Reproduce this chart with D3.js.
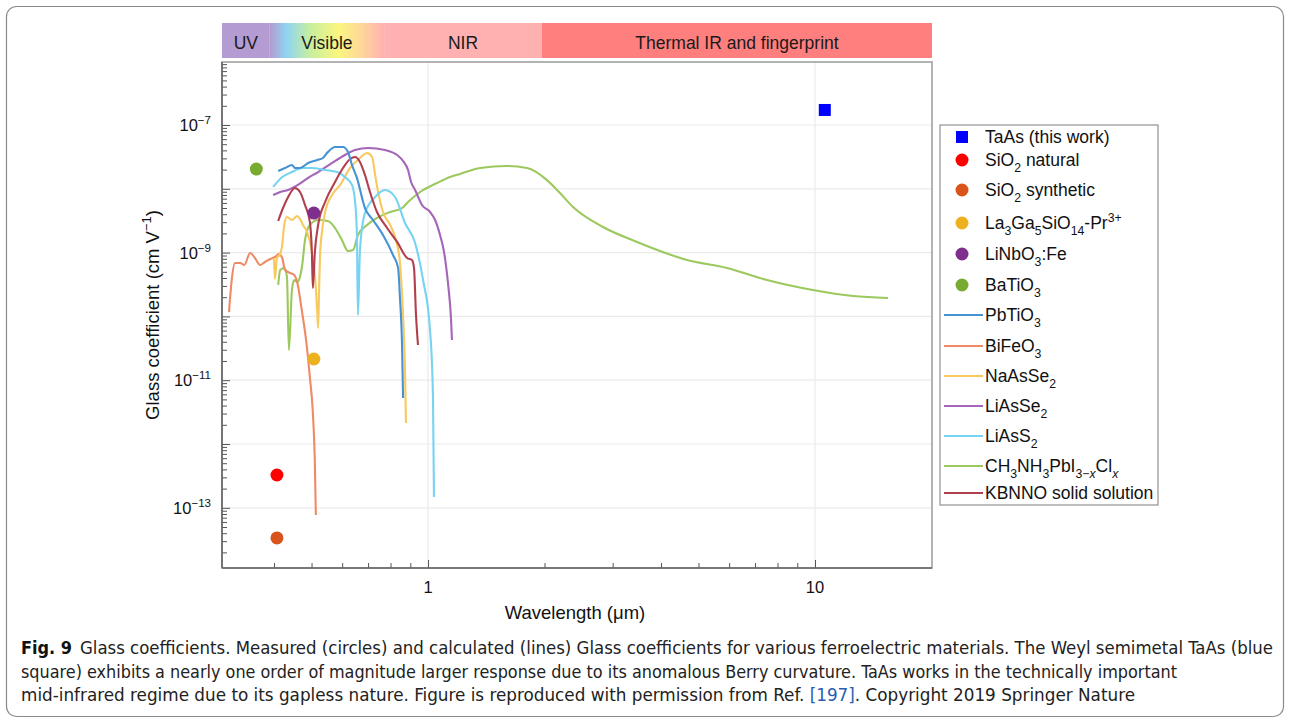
<!DOCTYPE html>
<html><head><meta charset="utf-8">
<script src="https://cdn.jsdelivr.net/npm/d3@7"></script>
<style>
body{margin:0;background:#fff;}
svg{display:block;font-family:"Liberation Sans",Arimo,Arial,Helvetica,sans-serif;}
</style>
</head><body>
<svg id="chart" width="1290" height="721"></svg>
<script>
// ---------------- DATA ----------------
const bandNames = ["UV", "Visible", "NIR", "Thermal IR and fingerprint"];
const bandStart = [0.2935, 0.39, 0.77, 1.97];
const bandEnd   = [0.39, 0.77, 1.97, 20.06];

const xMajorTicks = [1, 10];
const xTickLabels = ["1", "10"];
const yLabelExps = [-7, -9, -11, -13];

const pointNames = ["TaAs (this work)", "SiO_{2} natural", "SiO_{2} synthetic",
  "La_{3}Ga_{5}SiO_{14}-Pr^{3+}", "LiNbO_{3}:Fe", "BaTiO_{3}"];
const pointLambda = [10.6, 0.407, 0.407, 0.507, 0.507, 0.360];
const pointG = [1.72e-7, 3.27e-13, 3.37e-14, 2.15e-11, 4.17e-9, 2.04e-8];

const lineNames = ["PbTiO_{3}", "BiFeO_{3}", "NaAsSe_{2}", "LiAsSe_{2}", "LiAsS_{2}",
  "CH_{3}NH_{3}PbI_{3\u2212}_{*x}Cl_{*x}", "KBNNO solid solution"];

const pbtio3Lambda = [0.410,0.427,0.445,0.453,0.467,0.490,0.517,0.535,0.551,0.575,0.603,0.621,0.636,0.655,0.687,0.721,0.765,0.812,0.837,0.846,0.857,0.862];
const pbtio3G = [1.90e-8,2.12e-8,2.36e-8,2.12e-8,2.12e-8,2.54e-8,2.83e-8,3.04e-8,3.77e-8,4.52e-8,4.52e-8,3.77e-8,2.36e-8,1.48e-8,5.00e-9,3.24e-9,1.89e-9,9.17e-10,5.74e-10,2.01e-10,3.31e-11,5.26e-12];

const bifeo3Lambda = [0.306,0.311,0.317,0.327,0.335,0.347,0.357,0.368,0.379,0.391,0.402,0.412,0.420,0.427,0.440,0.451,0.459,0.473,0.484,0.495,0.504,0.510,0.513];
const bifeo3G = [1.17e-10,3.72e-10,6.87e-10,6.87e-10,6.39e-10,9.86e-10,8.23e-10,6.39e-10,7.12e-10,7.94e-10,8.53e-10,9.50e-10,8.23e-10,5.34e-10,4.79e-10,4.46e-10,3.46e-10,1.13e-10,4.27e-11,1.12e-11,3.06e-12,5.04e-13,7.71e-14];

const naasse2Lambda = [0.400,0.402,0.407,0.415,0.420,0.425,0.432,0.445,0.459,0.467,0.475,0.487,0.501,0.510,0.517,0.520,0.523,0.526,0.532,0.542,0.565,0.593,0.629,0.667,0.696,0.717,0.730,0.743,0.765,0.798,0.832,0.846,0.862,0.872,0.877];
const naasse2G = [8.23e-10,3.86e-10,8.23e-10,9.50e-10,1.32e-9,2.71e-9,3.61e-9,3.24e-9,3.75e-9,3.36e-9,2.71e-9,2.10e-9,1.02e-9,4.46e-10,1.26e-10,6.58e-11,2.59e-10,9.17e-10,2.10e-9,4.33e-9,8.00e-9,1.15e-8,2.12e-8,3.04e-8,3.64e-8,3.15e-8,1.65e-8,8.91e-9,4.33e-9,2.71e-9,1.32e-9,7.12e-10,1.05e-10,1.45e-11,2.13e-12];

const liasse2Lambda = [0.398,0.415,0.435,0.461,0.490,0.520,0.565,0.610,0.648,0.700,0.774,0.832,0.862,0.888,0.904,0.926,0.965,1.012,1.043,1.074,1.100,1.126,1.147,1.153];
const liasse2G = [8.00e-9,8.91e-9,9.58e-9,1.15e-8,1.48e-8,1.83e-8,2.54e-8,3.39e-8,4.06e-8,4.36e-8,4.06e-8,3.39e-8,2.73e-8,1.97e-8,1.28e-8,9.58e-9,5.57e-9,4.33e-9,3.24e-9,1.89e-9,1.02e-9,3.34e-10,8.78e-11,4.27e-11];

const liass2Lambda = [0.398,0.420,0.445,0.473,0.501,0.542,0.582,0.610,0.636,0.648,0.655,0.659,0.667,0.687,0.730,0.774,0.822,0.872,0.926,0.971,1.012,1.030,1.036];
const liass2G = [1.07e-8,1.53e-8,1.83e-8,2.12e-8,2.12e-8,1.97e-8,1.83e-8,1.53e-8,1.15e-8,6.21e-9,1.89e-9,1.05e-10,1.10e-9,4.17e-9,7.44e-9,9.58e-9,7.44e-9,2.91e-9,1.41e-9,3.72e-10,6.12e-11,5.45e-12,1.48e-13];

const mapiLambda = [0.410,0.415,0.425,0.432,0.437,0.445,0.451,0.459,0.464,0.473,0.481,0.495,0.520,0.551,0.575,0.599,0.621,0.640,0.659,0.696,0.738,0.798,0.857,0.888,0.954,1.055,1.140,1.210,1.363,1.600,1.803,2.030,2.193,2.370,2.833,3.468,4.670,5.925,7.516,9.88,12.54,15.44];
const mapiG = [3.11e-10,5.34e-10,5.74e-10,4.15e-10,2.97e-11,2.59e-10,3.72e-10,3.46e-10,3.72e-10,6.39e-10,1.58e-9,2.71e-9,3.24e-9,3.13e-9,2.43e-9,1.58e-9,1.06e-9,1.10e-9,1.89e-9,2.71e-9,3.49e-9,4.33e-9,5.00e-9,6.21e-9,8.91e-9,1.23e-8,1.53e-8,1.71e-8,2.12e-8,2.28e-8,2.12e-8,1.37e-8,8.59e-9,5.19e-9,2.52e-9,1.47e-9,7.66e-10,5.74e-10,3.72e-10,2.59e-10,2.09e-10,1.94e-10];

const kbnnoLambda = [0.410,0.422,0.435,0.453,0.467,0.481,0.495,0.501,0.504,0.510,0.520,0.542,0.575,0.603,0.629,0.648,0.667,0.687,0.708,0.738,0.784,0.832,0.883,0.909,0.920,0.931,0.942];
const kbnnoG = [3.13e-9,5.00e-9,7.44e-9,1.03e-8,8.91e-9,5.57e-9,3.02e-9,1.02e-9,2.79e-10,1.02e-9,2.71e-9,6.21e-9,1.28e-8,2.12e-8,2.93e-8,3.15e-8,2.63e-8,1.65e-8,8.91e-9,4.33e-9,2.43e-9,1.47e-9,8.23e-10,7.66e-10,5.74e-10,1.05e-10,3.56e-11];

const captionLines = [
  "Glass coefficients. Measured (circles) and calculated (lines) Glass coefficients for various ferroelectric materials. The Weyl semimetal TaAs (blue",
  "square) exhibits a nearly one order of magnitude larger response due to its anomalous Berry curvature. TaAs works in the technically important",
  "mid-infrared regime due to its gapless nature. Figure is reproduced with permission from Ref. "
];

// ---------------- STYLE / LAYOUT ----------------
const FONT = '"Liberation Sans",Arimo,Arial,Helvetica,sans-serif';
const bandColors = ["#b49bd2", "url(#visGrad)", "#ffb1b1", "#ff7f7f"];
const pointColors = ["#0000ff", "#ff0000", "#d9541a", "#edb120", "#7e2f8e", "#77ac30"];
const lineColors = ["#4593d3", "#ee8a66", "#f7c95e", "#a565b8", "#76d3f2", "#9cc95e", "#b0404e"];
const lineSeries = [
  [pbtio3Lambda, pbtio3G], [bifeo3Lambda, bifeo3G], [naasse2Lambda, naasse2G],
  [liasse2Lambda, liasse2G], [liass2Lambda, liass2G], [mapiLambda, mapiG], [kbnnoLambda, kbnnoG]
];
const drawOrder = [5, 1, 2, 3, 4, 6, 0];
const legendY = [137, 160, 190, 223, 254, 285, 315, 346, 376, 406, 436, 466, 493];

const L = 222, R = 932, T = 62, B = 568;
const svg = d3.select("#chart");

const x = d3.scaleLog().domain([0.2935, 20.06]).range([L, R]);
const y = d3.scaleLog().domain([1e-14, 1e-6]).range([571.6, 61.2]);

function rich(sel, str, size) {
  const parts = str.split(/(_\{[^}]*\}|\^\{[^}]*\})/).filter(s => s.length);
  let shift = 0;
  parts.forEach(p => {
    let t = p, sh = 0, fs = size, it = false;
    if (p.startsWith("_{")) { t = p.slice(2, -1); sh = size * 0.32; fs = size * 0.7; }
    else if (p.startsWith("^{")) { t = p.slice(2, -1); sh = -size * 0.42; fs = size * 0.7; }
    if (t.startsWith("*")) { t = t.slice(1); it = true; }
    sel.append("tspan").attr("dy", sh - shift).attr("font-size", fs)
      .attr("font-style", it ? "italic" : null).text(t);
    shift = sh;
  });
}

// outer card
svg.append("rect").attr("x", 6.5).attr("y", 6.5).attr("width", 1277).attr("height", 710)
  .attr("rx", 10).attr("fill", "none").attr("stroke", "#8a8a8a").attr("stroke-width", 1.2);

// gradient for visible band
const defs = svg.append("defs");
const g1 = defs.append("linearGradient").attr("id", "visGrad").attr("x1", "0%").attr("x2", "100%");
[[0, "#b49bd2"], [0.15, "#8fd5f1"], [0.35, "#c6eea0"], [0.6, "#fbf67f"], [0.8, "#ffd79a"], [1, "#ffb1b1"]]
  .forEach(s => g1.append("stop").attr("offset", s[0]).attr("stop-color", s[1]));

// bands
const bandG = svg.append("g");
bandNames.forEach((n, i) => {
  const x0 = x(bandStart[i]), x1 = x(bandEnd[i]);
  bandG.append("rect").attr("x", x0).attr("y", 23).attr("width", x1 - x0).attr("height", 35)
    .attr("fill", bandColors[i]);
  bandG.append("text").attr("x", (x0 + x1) / 2).attr("y", 49).attr("text-anchor", "middle")
    .attr("font-family", FONT).attr("font-size", 17.5).attr("fill", "#1a1a1a").text(n);
});

// grid
const yMajor = d3.range(-13, -6).map(e => Math.pow(10, e));
const yMinor = [];
d3.range(-14, -6).forEach(e => { for (let k = 2; k <= 9; k++) { const v = k * Math.pow(10, e); if (y(v) > T + 1 && y(v) < B - 1) yMinor.push(v); } });
const xMinor = [0.4, 0.5, 0.6, 0.7, 0.8, 0.9, 2, 3, 4, 5, 6, 7, 8, 9];

const grid = svg.append("g").attr("stroke", "#ebebeb").attr("stroke-width", 1.2);
yMajor.forEach(v => grid.append("line").attr("x1", L).attr("x2", R).attr("y1", y(v)).attr("y2", y(v)));
xMajorTicks.forEach(v => grid.append("line").attr("x1", x(v)).attr("x2", x(v)).attr("y1", T).attr("y2", B));

// frame
svg.append("rect").attr("x", L).attr("y", T).attr("width", R - L).attr("height", B - T)
  .attr("fill", "none").attr("stroke", "#9a9a9a").attr("stroke-width", 1.5);

// axes
function styleAxis(g) { g.select(".domain").remove(); g.selectAll("line").attr("stroke", "#555").attr("stroke-width", 1); }
svg.append("g").attr("transform", `translate(${L},0)`).call(d3.axisRight(y).tickValues(yMajor).tickSize(8).tickFormat("")).call(styleAxis);
svg.append("g").attr("transform", `translate(${L},0)`).call(d3.axisRight(y).tickValues(yMinor).tickSize(5).tickFormat("")).call(styleAxis);
svg.append("g").attr("transform", `translate(0,${B})`).call(d3.axisTop(x).tickValues(xMajorTicks).tickSize(8).tickFormat("")).call(styleAxis);
svg.append("g").attr("transform", `translate(0,${B})`).call(d3.axisTop(x).tickValues(xMinor).tickSize(5).tickFormat("")).call(styleAxis);
svg.append("line").attr("x1", L).attr("x2", L).attr("y1", T).attr("y2", B).attr("stroke", "#666").attr("stroke-width", 1.6);
svg.append("line").attr("x1", L).attr("x2", R).attr("y1", B).attr("y2", B).attr("stroke", "#666").attr("stroke-width", 1.6);

// tick labels
xMajorTicks.forEach((v, i) => svg.append("text").attr("x", x(v)).attr("y", 593).attr("text-anchor", "middle")
  .attr("font-family", FONT).attr("font-size", 16.5).attr("fill", "#111").text(xTickLabels[i]));
yLabelExps.forEach(e => {
  const t = svg.append("text").attr("x", 211).attr("y", y(Math.pow(10, e)) + 6).attr("text-anchor", "end")
    .attr("font-family", FONT).attr("font-size", 16.5).attr("fill", "#111");
  rich(t, "10^{\u2212" + (-e) + "}", 16.5);
});

// axis titles
svg.append("text").attr("x", 575).attr("y", 619).attr("text-anchor", "middle").attr("font-size", 18.5)
  .attr("font-family", FONT).attr("fill", "#111").text("Wavelength (\u03bcm)");
const yt = svg.append("text").attr("transform", "translate(159,315) rotate(-90)").attr("text-anchor", "middle")
  .attr("font-family", FONT).attr("font-size", 18.5).attr("fill", "#111");
rich(yt, "Glass coefficient (cm V^{\u22121})", 18.5);

// lines
const line = d3.line().x(d => x(d[0])).y(d => y(d[1])).curve(d3.curveMonotoneX);
const plotG = svg.append("g");
drawOrder.forEach(i => {
  const [lam, g] = lineSeries[i];
  plotG.append("path").datum(lam.map((l, j) => [l, g[j]])).attr("d", line)
    .attr("fill", "none").attr("stroke", lineColors[i]).attr("stroke-width", 2.1).attr("stroke-linejoin", "round");
});

// points
pointLambda.forEach((l, i) => {
  if (i === 0) {
    plotG.append("rect").attr("x", x(l) - 6).attr("y", y(pointG[i]) - 6).attr("width", 12).attr("height", 12).attr("fill", pointColors[i]);
  } else {
    plotG.append("circle").attr("cx", x(l)).attr("cy", y(pointG[i])).attr("r", 6.5).attr("fill", pointColors[i]);
  }
});

// legend
const lg = svg.append("g");
lg.append("rect").attr("x", 940).attr("y", 125).attr("width", 218).attr("height", 380)
  .attr("fill", "#fff").attr("stroke", "#9a9a9a").attr("stroke-width", 1.3);
const allNames = pointNames.concat(lineNames);
allNames.forEach((n, i) => {
  const yy = legendY[i];
  if (i === 0) lg.append("rect").attr("x", 956).attr("y", yy - 6).attr("width", 12).attr("height", 12).attr("fill", pointColors[0]);
  else if (i < pointNames.length) lg.append("circle").attr("cx", 962).attr("cy", yy).attr("r", 6.5).attr("fill", pointColors[i]);
  else lg.append("line").attr("x1", 944).attr("x2", 983).attr("y1", yy).attr("y2", yy)
    .attr("stroke", lineColors[i - pointNames.length]).attr("stroke-width", 2);
  const t = lg.append("text").attr("x", 985).attr("y", yy + 6).attr("font-family", FONT).attr("font-size", 17.5).attr("fill", "#111");
  rich(t, n, 17.5);
});

// caption
const capFont = '"Liberation Sans Narrow","DejaVu Sans Condensed","Liberation Sans",sans-serif';
svg.append("text").attr("x", 21).attr("y", 654).attr("font-family", capFont).attr("font-weight", "bold")
  .attr("font-size", 18).attr("textLength", 51).attr("lengthAdjust", "spacingAndGlyphs").attr("fill", "#111").text("Fig. 9");
svg.append("text").attr("x", 80).attr("y", 654).attr("font-family", capFont).attr("font-size", 17.5)
  .attr("textLength", 1193).attr("lengthAdjust", "spacingAndGlyphs").attr("fill", "#222").text(captionLines[0]);
svg.append("text").attr("x", 21).attr("y", 678).attr("font-family", capFont).attr("font-size", 17.5)
  .attr("textLength", 1156).attr("lengthAdjust", "spacingAndGlyphs").attr("fill", "#222").text(captionLines[1]);
const c3 = svg.append("text").attr("x", 21).attr("y", 701).attr("font-family", capFont).attr("font-size", 17.5)
  .attr("textLength", 1114).attr("lengthAdjust", "spacingAndGlyphs").attr("fill", "#222");
c3.append("tspan").text(captionLines[2]);
c3.append("tspan").attr("fill", "#2a5db0").text("[197]");
c3.append("tspan").text(". Copyright 2019 Springer Nature");
</script>
</body></html>
